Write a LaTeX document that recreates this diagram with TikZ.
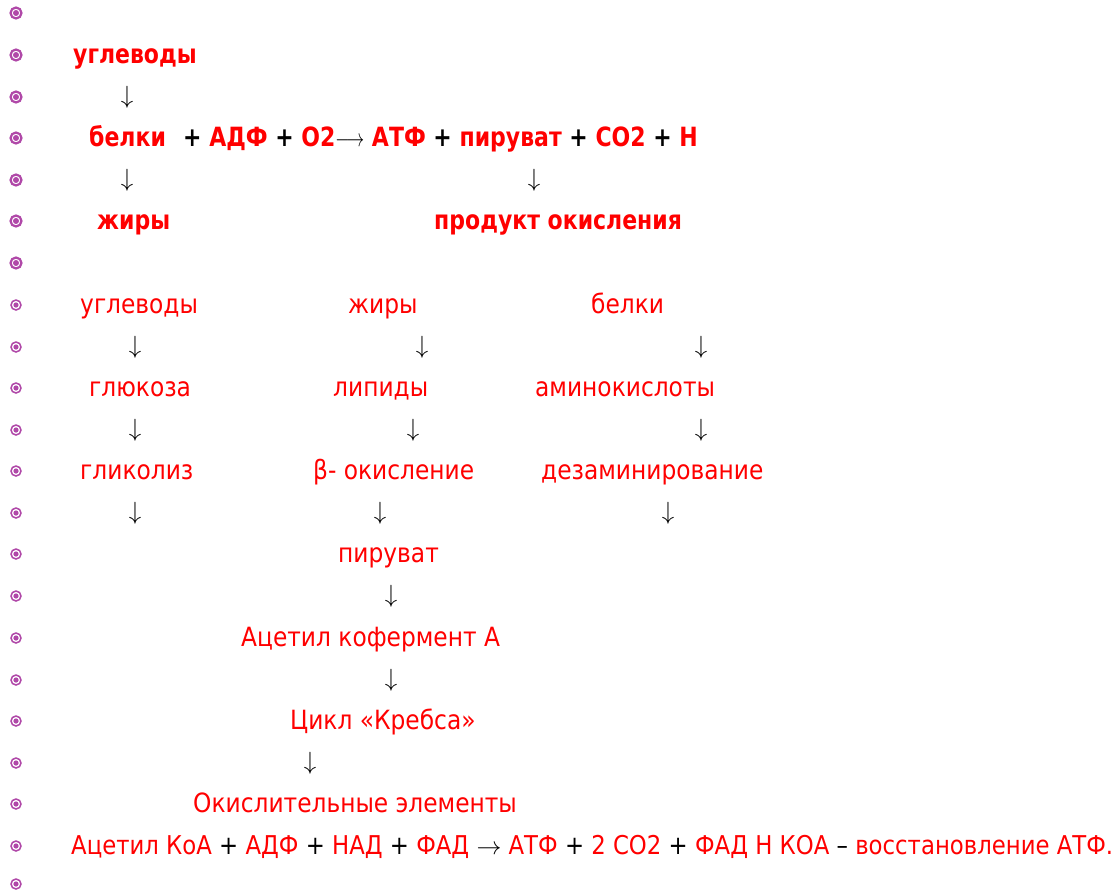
\documentclass[tikz,border=0pt]{standalone}
\usepackage{fontspec}
\setmainfont{DejaVu Sans}[FakeStretch=0.88,BoldFeatures={FakeStretch=0.83}]
\definecolor{txtred}{RGB}{255,0,0}
\definecolor{bulletpurple}{RGB}{176,72,168}
\newcommand{\blk}[1]{\textcolor{black}{#1}}
\tikzset{
  bigbullet/.style={draw=bulletpurple,line width=2.2pt,circle,minimum size=11pt,inner sep=0pt},
  smallbullet/.style={draw=bulletpurple,line width=1.5pt,circle,minimum size=10pt,inner sep=0pt},
  bolditem/.style={anchor=base west,inner sep=0pt,text=txtred,font=\fontsize{26.5}{30}\selectfont\bfseries},
  item/.style={anchor=base west,inner sep=0pt,text=txtred,font=\fontsize{26.5}{30}\selectfont},
  lastitem/.style={anchor=base west,inner sep=0pt,text=txtred,font=\fontsize{25.9}{30}\selectfont},
  downarrow/.style={anchor=center,inner sep=0pt,text=black,font=\fontsize{24}{28}\selectfont}
}
\begin{document}
\begin{tikzpicture}[x=1pt,y=-1pt]
\useasboundingbox (0,0) rectangle (1120,895);
\fill[white] (0,0) rectangle (1120,895);

% bullets of the slide
\foreach \r [count=\i] in {13,55,97,138,180,221,263}{
  \node[bigbullet] (bb\i) at (16,\r) {};
  \fill[bulletpurple] (bb\i.center) circle (3pt);
}
\foreach \r [count=\i] in {305,347,388,430,471,513,554,596,638,680,721,763,804,846,884}{
  \node[smallbullet] (sb\i) at (16,\r) {};
  \fill[bulletpurple] (sb\i.center) circle (2.6pt);
}

% overall equation
\node[bolditem] (ugl1) at (73,63) {углеводы};
\node[downarrow] (a1) at (127,97) {$\downarrow$};
\node[bolditem] (bel1) at (89,146) {белки};
\node[bolditem] (eq1) at (183,146) {\blk{+} АДФ \blk{+} О2\blk{\mdseries\scalebox{0.72}[1]{$\longrightarrow$}} АТФ \blk{+} пируват \blk{+} СО2 \blk{+} Н};
\node[downarrow] (a2) at (127,180) {$\downarrow$};
\node[downarrow] (a3) at (534,180) {$\downarrow$};
\node[bolditem] (zh1) at (97,229) {жиры};
\node[bolditem] (prod) at (434,229) {продукт окисления};

% three pathways
\node[item] (ugl2) at (80,313) {углеводы};
\node[item] (zh2) at (348,313) {жиры};
\node[item] (bel2) at (591,313) {белки};
\node[downarrow] (b1) at (135,347) {$\downarrow$};
\node[downarrow] (b2) at (422,347) {$\downarrow$};
\node[downarrow] (b3) at (701,347) {$\downarrow$};
\node[item] (glu) at (89,396) {глюкоза};
\node[item] (lip) at (333,396) {липиды};
\node[item] (amin) at (535,396) {аминокислоты};
\node[downarrow] (c1) at (135,430) {$\downarrow$};
\node[downarrow] (c2) at (413,430) {$\downarrow$};
\node[downarrow] (c3) at (701,430) {$\downarrow$};
\node[item] (glik) at (80,479) {гликолиз};
\node[item] (beta) at (313,479) {β- окисление};
\node[item] (dez) at (541,479) {дезаминирование};
\node[downarrow] (d1) at (135,513) {$\downarrow$};
\node[downarrow] (d2) at (380,513) {$\downarrow$};
\node[downarrow] (d3) at (668,513) {$\downarrow$};

% common route
\node[item] (pir) at (338,562) {пируват};
\node[downarrow] (e1) at (391,596) {$\downarrow$};
\node[item] (acet) at (241,646) {Ацетил кофермент А};
\node[downarrow] (e2) at (391,680) {$\downarrow$};
\node[item] (krebs) at (290,729) {Цикл «Кребса»};
\node[downarrow] (e3) at (310,763) {$\downarrow$};
\node[item] (okis) at (193,812) {Окислительные элементы};
\node[lastitem] (final) at (71,854) {Ацетил КоА \blk{+} АДФ \blk{+} НАД \blk{+} ФАД \blk{$\rightarrow$} АТФ \blk{+} 2 СО2 \blk{+} ФАД Н КОА \blk{–} восстановление АТФ.};
\end{tikzpicture}
\end{document}
